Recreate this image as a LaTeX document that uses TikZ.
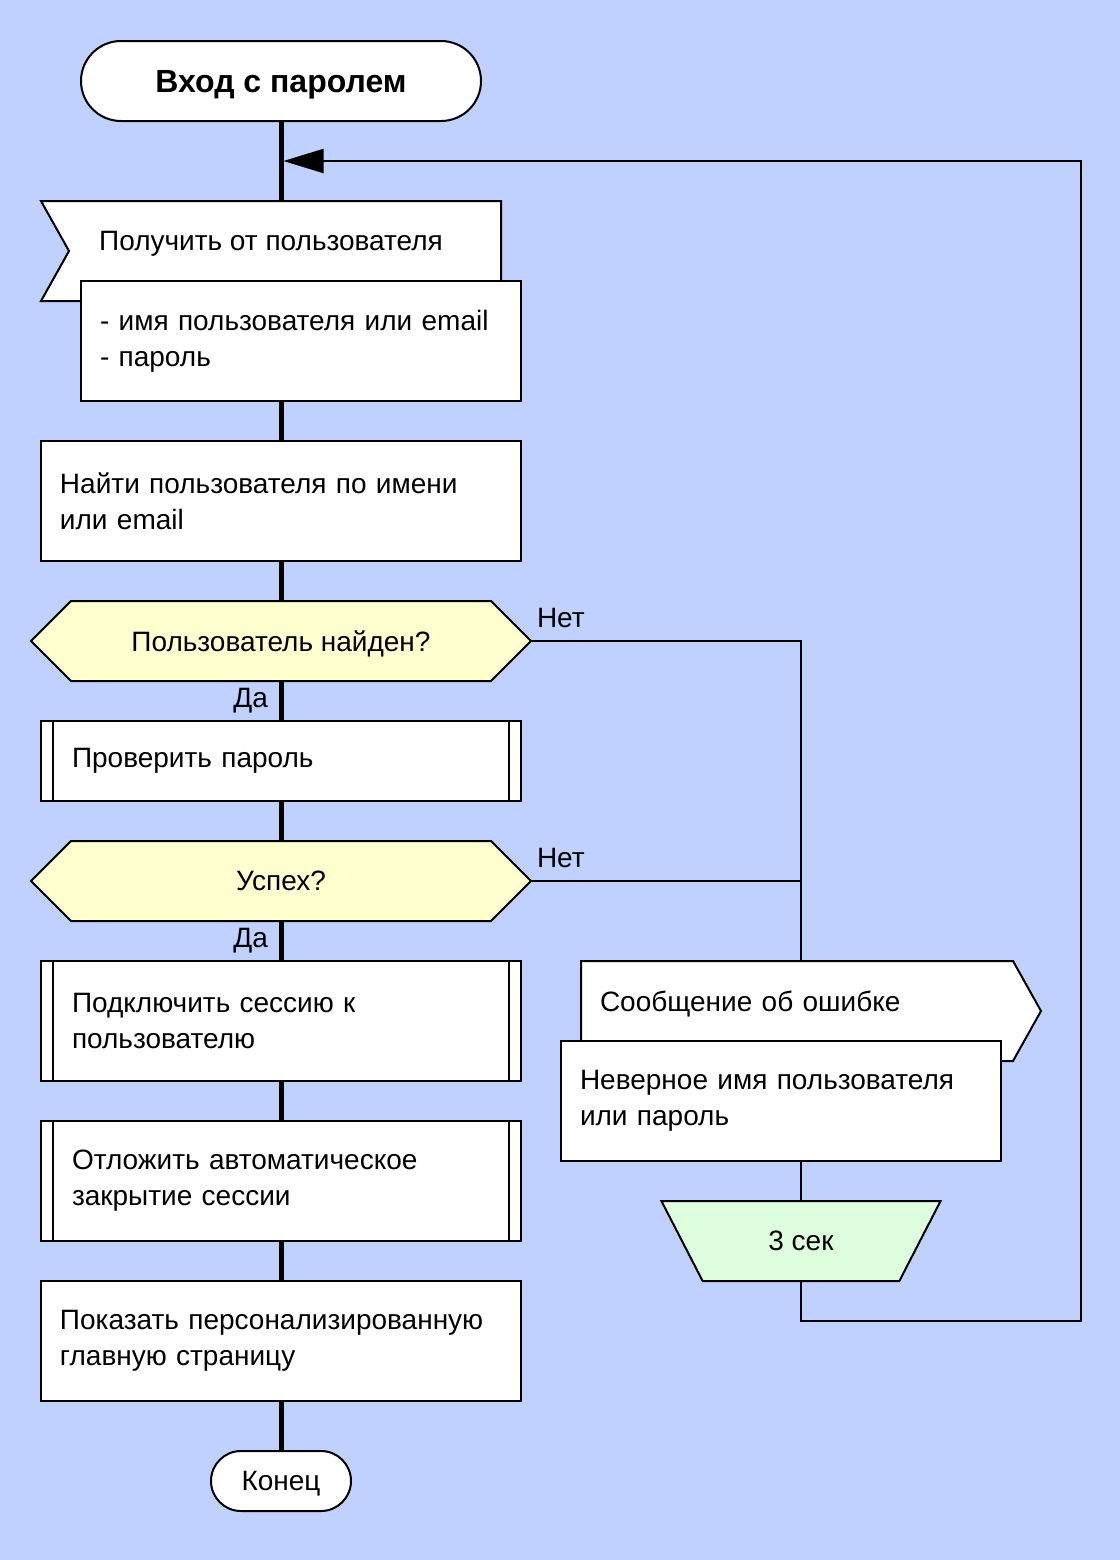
\documentclass[tikz,border=0pt]{standalone}
\usepackage{fontspec}
\setmainfont{Liberation Sans}
\usetikzlibrary{arrows.meta,positioning,shapes.geometric,backgrounds}
\definecolor{bgblue}{RGB}{192,208,255}
\definecolor{condyellow}{RGB}{255,255,208}
\definecolor{waitgreen}{RGB}{221,255,221}
\tikzset{
	% standard arrow tip
	>={Triangle[length=20pt,width=12pt]},
	% common text
	every node/.style={font=\fontsize{14pt}{18pt}\selectfont, outer sep=0pt},
	% terminator style
	terminal/.style={
		rectangle, rounded corners=20pt,
		draw=black, line width=1pt, fill=white,
		minimum width=200pt, minimum height=40pt, text depth=0pt
	},
	% action box style
	box/.style={
		rectangle,
		draw=black, line width=1pt, fill=white,
		align=left, inner xsep=9.5pt, inner ysep=0pt,
		text width=221pt, minimum height=60pt
	},
	% subroutine style
	sub/.style={
		box, inner xsep=15.5pt, text width=209pt,
		path picture={
			\draw[line width=1pt]
				([xshift=6pt]path picture bounding box.north west) --
				([xshift=6pt]path picture bounding box.south west)
				([xshift=-6pt]path picture bounding box.north east) --
				([xshift=-6pt]path picture bounding box.south east);
		}
	},
	% question style (hexagon drawn behind)
	cond/.style={
		rectangle, inner sep=0pt, text depth=0pt,
		minimum width=250pt, minimum height=40pt
	},
	hexa/.style={draw=black, line width=1pt, fill=condyellow},
	% pause style
	pause/.style={
		trapezium, shape border rotate=180, trapezium stretches=true,
		trapezium left angle=63.43, trapezium right angle=63.43,
		draw=black, line width=1pt, fill=waitgreen,
		minimum width=140pt, minimum height=40pt, text depth=0pt
	},
	% input and output flags
	flag/.style={draw=black, line width=1pt, fill=white},
	% branch labels
	lbl/.style={inner sep=3pt},
	% skewer line
	spine/.style={line width=2.5pt},
	% branch line
	flow/.style={line width=1pt},
}
\begin{document}
\begin{tikzpicture}
	\useasboundingbox (0,0) rectangle (560pt,-780pt);
	% main column
	\node[terminal, font=\bfseries\fontsize{16pt}{18pt}\selectfont] (title) at (140.5pt,-40.5pt)
		{Вход с паролем};
	\node[minimum width=230pt, minimum height=40pt, inner sep=0pt, text depth=0pt,
		below=40pt of title, xshift=-5pt] (get)
		{Получить от пользователя};
	\node[box, text width=201pt, anchor=north east] (inp) at ([xshift=10pt]get.south east)
		{- имя пользователя или email\\- пароль};
	\node[box, below=20pt of inp, xshift=-10pt] (find)
		{Найти пользователя по имени\\или email};
	\node[cond, below=20pt of find] (found)
		{Пользователь найден?};
	\node[sub, minimum height=40pt, below=20pt of found] (check)
		{Проверить пароль};
	\node[cond, below=20pt of check] (ok)
		{Успех?};
	\node[sub, below=20pt of ok] (bind)
		{Подключить сессию к\\пользователю};
	\node[sub, below=20pt of bind] (extend)
		{Отложить автоматическое\\закрытие сессии};
	\node[box, below=20pt of extend] (home)
		{Показать персонализированную\\главную страницу};
	\node[terminal, rounded corners=15pt, minimum width=70pt, minimum height=30pt, below=25pt of home] (stop)
		{Конец};
	% error branch
	\node[box, draw=none, fill=none, text width=197pt, minimum height=40pt, text depth=0pt,
		anchor=north west] (err) at ([xshift=30pt]bind.north east) {Сообщение об ошибке};
	\node[box, text width=201pt, anchor=north west] (msg) at ([xshift=-10pt]err.south west)
		{Неверное имя пользователя\\или пароль};
	\node[pause, below=20pt of msg, xshift=10pt] (wait)
		{3 сек};
	\coordinate (loopin) at ([xshift=1.25pt,yshift=-20pt]title.south);

	% skewer
	\draw[spine] (title.south) -- (title.south |- get.north);
	\draw[spine] (title |- inp.south) -- (find.north);
	\draw[spine] (find.south) -- (found.north);
	\draw[spine] (found.south) -- (check.north);
	\draw[spine] (check.south) -- (ok.north);
	\draw[spine] (ok.south) -- (bind.north);
	\draw[spine] (bind.south) -- (extend.north);
	\draw[spine] (extend.south) -- (home.north);
	\draw[spine] (home.south) -- (stop.north);
	\node[lbl, anchor=base east] (yes1) at ([xshift=-3.5pt,yshift=-13pt]found.south) {Да};
	\node[lbl, anchor=base east] (yes2) at ([xshift=-3.5pt,yshift=-13pt]ok.south) {Да};

	% branches
	\draw[flow] (found.east) node[lbl, anchor=base west, yshift=7pt] (no1) {Нет}
		-| (wait.north |- err.north);
	\draw[flow] (ok.east) node[lbl, anchor=base west, yshift=7pt] (no2) {Нет}
		-- (ok.east -| wait.north);
	\draw[flow] (wait.north |- msg.south) -- (wait.north);
	\draw[flow, ->] (wait.south) -- ++(0,-20pt) -- ++(140pt,0) |- (loopin);

	\begin{scope}[on background layer]
		\fill[bgblue] (0,0) rectangle (560pt,-780pt);
		\draw[flag] (get.north west) -- (get.north east) -- ([yshift=-10pt]get.south east)
			-- ([yshift=-10pt]get.south west) -- ([xshift=14pt,yshift=-5pt]get.west) -- cycle;
		\draw[flag] (err.north west) -- (err.north east) -- ([xshift=14pt,yshift=-5pt]err.east)
			-- ([yshift=-10pt]err.south east) -- ([yshift=-10pt]err.south west) -- cycle;
		\foreach \q in {found, ok}
			\draw[hexa] (\q.west) -- ([xshift=20pt]\q.north west) -- ([xshift=-20pt]\q.north east)
				-- (\q.east) -- ([xshift=-20pt]\q.south east) -- ([xshift=20pt]\q.south west) -- cycle;
	\end{scope}
\end{tikzpicture}
\end{document}
